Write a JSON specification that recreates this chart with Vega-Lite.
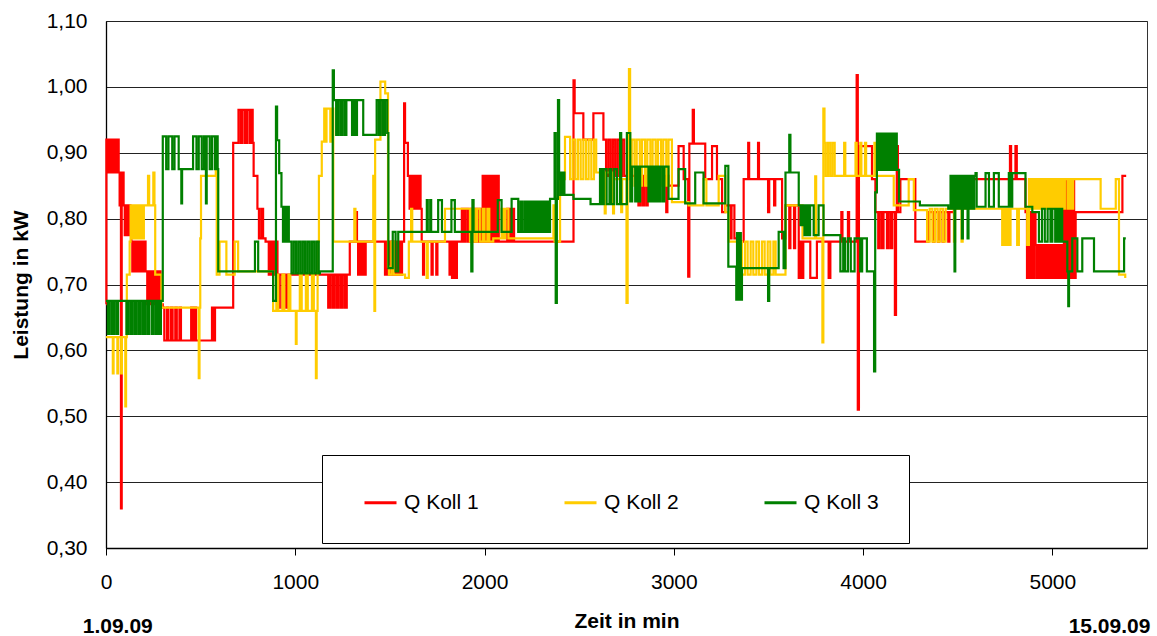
{
"$schema": "https://vega.github.io/schema/vega-lite/v6.json",
"width": 1041, "height": 527,
"autosize": {"type": "none"},
"padding": {"left": 106, "top": 21, "right": 10, "bottom": 88},
"background": "white",
"config": {
 "font": "Liberation Sans",
 "view": {"stroke": "#333", "strokeWidth": 1},
 "axis": {"labelFont": "Liberation Sans", "titleFont": "Liberation Sans", "labelColor": "#000", "titleColor": "#000", "labelFontSize": 21, "titleFontSize": 21, "titleFontWeight": "bold", "domainColor": "#000", "tickColor": "#000", "gridColor": "#222", "gridWidth": 1}
},
"datasets": {
"k1": [{"t":0,"v":0.67},{"t":2,"v":0.92},{"t":7,"v":0.87},{"t":12,"v":0.92},{"t":17,"v":0.87},{"t":22,"v":0.92},{"t":27,"v":0.87},{"t":32,"v":0.92},{"t":37,"v":0.87},{"t":42,"v":0.92},{"t":47,"v":0.87},{"t":52,"v":0.92},{"t":57,"v":0.87},{"t":62,"v":0.92},{"t":67,"v":0.87},{"t":72,"v":0.82},{"t":76,"v":0.87},{"t":79,"v":0.36},{"t":83,"v":0.82},{"t":88,"v":0.87},{"t":93,"v":0.82},{"t":99,"v":0.775},{"t":104,"v":0.82},{"t":109,"v":0.775},{"t":114,"v":0.82},{"t":119,"v":0.775},{"t":124,"v":0.82},{"t":129,"v":0.775},{"t":134,"v":0.765},{"t":139,"v":0.72},{"t":144,"v":0.765},{"t":149,"v":0.72},{"t":154,"v":0.765},{"t":159,"v":0.72},{"t":164,"v":0.765},{"t":169,"v":0.72},{"t":174,"v":0.765},{"t":179,"v":0.72},{"t":184,"v":0.765},{"t":189,"v":0.72},{"t":194,"v":0.765},{"t":199,"v":0.72},{"t":204,"v":0.765},{"t":209,"v":0.72},{"t":218,"v":0.67},{"t":223,"v":0.72},{"t":228,"v":0.67},{"t":233,"v":0.72},{"t":238,"v":0.67},{"t":243,"v":0.72},{"t":248,"v":0.67},{"t":253,"v":0.72},{"t":258,"v":0.67},{"t":263,"v":0.72},{"t":268,"v":0.67},{"t":273,"v":0.72},{"t":278,"v":0.67},{"t":283,"v":0.72},{"t":288,"v":0.67},{"t":300,"v":0.665},{"t":308,"v":0.615},{"t":322,"v":0.665},{"t":330,"v":0.615},{"t":344,"v":0.665},{"t":352,"v":0.615},{"t":366,"v":0.665},{"t":374,"v":0.615},{"t":388,"v":0.665},{"t":396,"v":0.615},{"t":450,"v":0.665},{"t":458,"v":0.615},{"t":468,"v":0.665},{"t":476,"v":0.615},{"t":560,"v":0.665},{"t":566,"v":0.615},{"t":576,"v":0.665},{"t":672,"v":0.915},{"t":700,"v":0.965},{"t":712,"v":0.915},{"t":722,"v":0.965},{"t":735,"v":0.915},{"t":745,"v":0.965},{"t":758,"v":0.915},{"t":766,"v":0.965},{"t":775,"v":0.915},{"t":780,"v":0.865},{"t":800,"v":0.815},{"t":808,"v":0.77},{"t":820,"v":0.815},{"t":830,"v":0.77},{"t":843,"v":0.765},{"t":860,"v":0.715},{"t":866,"v":0.765},{"t":876,"v":0.715},{"t":882,"v":0.765},{"t":892,"v":0.715},{"t":898,"v":0.765},{"t":906,"v":0.715},{"t":912,"v":0.665},{"t":918,"v":0.715},{"t":932,"v":0.665},{"t":938,"v":0.715},{"t":952,"v":0.665},{"t":958,"v":0.715},{"t":1174,"v":0.665},{"t":1184,"v":0.715},{"t":1196,"v":0.665},{"t":1206,"v":0.715},{"t":1218,"v":0.665},{"t":1228,"v":0.715},{"t":1240,"v":0.665},{"t":1250,"v":0.715},{"t":1262,"v":0.665},{"t":1272,"v":0.715},{"t":1288,"v":0.765},{"t":1320,"v":0.81},{"t":1326,"v":0.765},{"t":1332,"v":0.715},{"t":1340,"v":0.765},{"t":1350,"v":0.715},{"t":1358,"v":0.765},{"t":1366,"v":0.715},{"t":1372,"v":0.765},{"t":1474,"v":0.715},{"t":1484,"v":0.765},{"t":1494,"v":0.715},{"t":1504,"v":0.765},{"t":1514,"v":0.715},{"t":1524,"v":0.765},{"t":1534,"v":0.715},{"t":1544,"v":0.765},{"t":1554,"v":0.715},{"t":1564,"v":0.765},{"t":1575,"v":0.975},{"t":1580,"v":0.915},{"t":1595,"v":0.865},{"t":1604,"v":0.815},{"t":1614,"v":0.865},{"t":1624,"v":0.815},{"t":1634,"v":0.865},{"t":1644,"v":0.815},{"t":1654,"v":0.865},{"t":1662,"v":0.815},{"t":1668,"v":0.765},{"t":1675,"v":0.715},{"t":1680,"v":0.765},{"t":1720,"v":0.715},{"t":1726,"v":0.765},{"t":1745,"v":0.715},{"t":1751,"v":0.765},{"t":1815,"v":0.715},{"t":1821,"v":0.765},{"t":1828,"v":0.71},{"t":1836,"v":0.765},{"t":1846,"v":0.71},{"t":1854,"v":0.765},{"t":1880,"v":0.815},{"t":1890,"v":0.765},{"t":1900,"v":0.815},{"t":1912,"v":0.765},{"t":1925,"v":0.815},{"t":1935,"v":0.765},{"t":1950,"v":0.815},{"t":1960,"v":0.765},{"t":1972,"v":0.815},{"t":1982,"v":0.765},{"t":1990,"v":0.865},{"t":1995,"v":0.765},{"t":2000,"v":0.865},{"t":2005,"v":0.765},{"t":2010,"v":0.865},{"t":2015,"v":0.765},{"t":2020,"v":0.865},{"t":2025,"v":0.765},{"t":2030,"v":0.865},{"t":2035,"v":0.765},{"t":2040,"v":0.865},{"t":2045,"v":0.765},{"t":2050,"v":0.865},{"t":2055,"v":0.765},{"t":2060,"v":0.865},{"t":2065,"v":0.765},{"t":2070,"v":0.865},{"t":2075,"v":0.765},{"t":2120,"v":0.815},{"t":2126,"v":0.765},{"t":2135,"v":0.815},{"t":2141,"v":0.765},{"t":2150,"v":0.815},{"t":2156,"v":0.765},{"t":2470,"v":1.01},{"t":2476,"v":0.96},{"t":2522,"v":0.92},{"t":2575,"v":0.96},{"t":2628,"v":0.92},{"t":2642,"v":0.865},{"t":2654,"v":0.92},{"t":2666,"v":0.865},{"t":2678,"v":0.92},{"t":2690,"v":0.865},{"t":2702,"v":0.92},{"t":2714,"v":0.865},{"t":2726,"v":0.92},{"t":2738,"v":0.865},{"t":2813,"v":0.82},{"t":2822,"v":0.865},{"t":2834,"v":0.82},{"t":2842,"v":0.865},{"t":2854,"v":0.82},{"t":2862,"v":0.865},{"t":2960,"v":0.81},{"t":2966,"v":0.865},{"t":2972,"v":0.85},{"t":3025,"v":0.91},{"t":3052,"v":0.86},{"t":3076,"v":0.712},{"t":3082,"v":0.914},{"t":3100,"v":0.965},{"t":3106,"v":0.914},{"t":3166,"v":0.86},{"t":3202,"v":0.91},{"t":3228,"v":0.86},{"t":3255,"v":0.81},{"t":3272,"v":0.82},{"t":3300,"v":0.77},{"t":3305,"v":0.82},{"t":3320,"v":0.77},{"t":3343,"v":0.765},{"t":3369,"v":0.86},{"t":3393,"v":0.915},{"t":3398,"v":0.86},{"t":3445,"v":0.915},{"t":3450,"v":0.86},{"t":3498,"v":0.81},{"t":3504,"v":0.86},{"t":3530,"v":0.82},{"t":3536,"v":0.86},{"t":3572,"v":0.77},{"t":3590,"v":0.82},{"t":3610,"v":0.755},{"t":3616,"v":0.82},{"t":3635,"v":0.755},{"t":3641,"v":0.82},{"t":3660,"v":0.71},{"t":3668,"v":0.765},{"t":3676,"v":0.71},{"t":3684,"v":0.765},{"t":3721,"v":0.71},{"t":3756,"v":0.765},{"t":3818,"v":0.71},{"t":3827,"v":0.765},{"t":3885,"v":0.81},{"t":3891,"v":0.765},{"t":3920,"v":0.81},{"t":3926,"v":0.765},{"t":3966,"v":1.018},{"t":3972,"v":0.51},{"t":3978,"v":0.91},{"t":4047,"v":0.86},{"t":4065,"v":0.81},{"t":4080,"v":0.755},{"t":4088,"v":0.81},{"t":4100,"v":0.755},{"t":4108,"v":0.81},{"t":4126,"v":0.755},{"t":4134,"v":0.81},{"t":4146,"v":0.755},{"t":4154,"v":0.81},{"t":4168,"v":0.654},{"t":4174,"v":0.81},{"t":4178,"v":0.91},{"t":4184,"v":0.81},{"t":4197,"v":0.86},{"t":4276,"v":0.765},{"t":4345,"v":0.81},{"t":4370,"v":0.765},{"t":4376,"v":0.81},{"t":4395,"v":0.765},{"t":4401,"v":0.81},{"t":4420,"v":0.765},{"t":4426,"v":0.81},{"t":4450,"v":0.765},{"t":4456,"v":0.81},{"t":4480,"v":0.86},{"t":4776,"v":0.91},{"t":4782,"v":0.86},{"t":4805,"v":0.91},{"t":4812,"v":0.86},{"t":4858,"v":0.81},{"t":4866,"v":0.71},{"t":4872,"v":0.81},{"t":4882,"v":0.71},{"t":4888,"v":0.81},{"t":4898,"v":0.71},{"t":4904,"v":0.81},{"t":4911,"v":0.76},{"t":4916,"v":0.71},{"t":4921,"v":0.76},{"t":4926,"v":0.71},{"t":4931,"v":0.76},{"t":4936,"v":0.71},{"t":4941,"v":0.76},{"t":4946,"v":0.71},{"t":4951,"v":0.76},{"t":4956,"v":0.71},{"t":4961,"v":0.76},{"t":4966,"v":0.71},{"t":4971,"v":0.76},{"t":4976,"v":0.71},{"t":4981,"v":0.76},{"t":4986,"v":0.71},{"t":4991,"v":0.76},{"t":4996,"v":0.71},{"t":5001,"v":0.76},{"t":5006,"v":0.71},{"t":5011,"v":0.76},{"t":5016,"v":0.71},{"t":5021,"v":0.76},{"t":5026,"v":0.71},{"t":5031,"v":0.76},{"t":5036,"v":0.71},{"t":5041,"v":0.76},{"t":5046,"v":0.71},{"t":5051,"v":0.76},{"t":5056,"v":0.71},{"t":5061,"v":0.86},{"t":5067,"v":0.71},{"t":5073,"v":0.86},{"t":5079,"v":0.71},{"t":5085,"v":0.86},{"t":5091,"v":0.71},{"t":5097,"v":0.86},{"t":5103,"v":0.71},{"t":5109,"v":0.86},{"t":5115,"v":0.71},{"t":5123,"v":0.81},{"t":5370,"v":0.865},{"t":5390,"v":0.865}],
"k2": [{"t":0,"v":0.62},{"t":36,"v":0.565},{"t":40,"v":0.62},{"t":60,"v":0.565},{"t":64,"v":0.62},{"t":80,"v":0.565},{"t":84,"v":0.62},{"t":102,"v":0.515},{"t":106,"v":0.62},{"t":110,"v":0.715},{"t":125,"v":0.765},{"t":130,"v":0.82},{"t":135,"v":0.77},{"t":140,"v":0.82},{"t":145,"v":0.77},{"t":150,"v":0.82},{"t":155,"v":0.77},{"t":160,"v":0.82},{"t":165,"v":0.77},{"t":170,"v":0.82},{"t":175,"v":0.77},{"t":180,"v":0.82},{"t":185,"v":0.77},{"t":190,"v":0.82},{"t":195,"v":0.77},{"t":200,"v":0.82},{"t":222,"v":0.865},{"t":228,"v":0.82},{"t":250,"v":0.87},{"t":256,"v":0.82},{"t":260,"v":0.715},{"t":293,"v":0.665},{"t":490,"v":0.558},{"t":494,"v":0.665},{"t":498,"v":0.77},{"t":502,"v":0.865},{"t":580,"v":0.875},{"t":585,"v":0.715},{"t":600,"v":0.765},{"t":636,"v":0.715},{"t":680,"v":0.765},{"t":698,"v":0.72},{"t":883,"v":0.66},{"t":900,"v":0.715},{"t":910,"v":0.66},{"t":932,"v":0.715},{"t":942,"v":0.66},{"t":964,"v":0.715},{"t":974,"v":0.66},{"t":1003,"v":0.61},{"t":1007,"v":0.66},{"t":1024,"v":0.715},{"t":1034,"v":0.66},{"t":1056,"v":0.715},{"t":1066,"v":0.66},{"t":1088,"v":0.715},{"t":1098,"v":0.66},{"t":1109,"v":0.558},{"t":1113,"v":0.66},{"t":1118,"v":0.765},{"t":1125,"v":0.865},{"t":1140,"v":0.917},{"t":1153,"v":0.967},{"t":1160,"v":0.917},{"t":1165,"v":0.967},{"t":1185,"v":0.917},{"t":1190,"v":0.967},{"t":1201,"v":0.765},{"t":1312,"v":0.815},{"t":1318,"v":0.765},{"t":1412,"v":0.865},{"t":1418,"v":0.66},{"t":1422,"v":0.92},{"t":1450,"v":1.008},{"t":1475,"v":0.99},{"t":1490,"v":0.727},{"t":1495,"v":0.715},{"t":1508,"v":0.765},{"t":1520,"v":0.715},{"t":1580,"v":0.71},{"t":1600,"v":0.765},{"t":1612,"v":0.815},{"t":1618,"v":0.765},{"t":1694,"v":0.71},{"t":1700,"v":0.765},{"t":1791,"v":0.815},{"t":1923,"v":0.765},{"t":1935,"v":0.815},{"t":1948,"v":0.765},{"t":1960,"v":0.815},{"t":1975,"v":0.765},{"t":1990,"v":0.815},{"t":2000,"v":0.765},{"t":2015,"v":0.815},{"t":2025,"v":0.765},{"t":2046,"v":0.77},{"t":2090,"v":0.815},{"t":2100,"v":0.77},{"t":2110,"v":0.815},{"t":2126,"v":0.77},{"t":2364,"v":0.82},{"t":2370,"v":0.765},{"t":2399,"v":0.86},{"t":2425,"v":0.924},{"t":2452,"v":0.86},{"t":2466,"v":0.92},{"t":2480,"v":0.86},{"t":2494,"v":0.92},{"t":2508,"v":0.86},{"t":2522,"v":0.92},{"t":2536,"v":0.86},{"t":2550,"v":0.92},{"t":2564,"v":0.86},{"t":2578,"v":0.92},{"t":2590,"v":0.87},{"t":2635,"v":0.808},{"t":2640,"v":0.87},{"t":2679,"v":0.808},{"t":2684,"v":0.86},{"t":2722,"v":0.81},{"t":2727,"v":0.86},{"t":2750,"v":0.672},{"t":2756,"v":0.86},{"t":2763,"v":1.027},{"t":2769,"v":0.86},{"t":2778,"v":0.92},{"t":2792,"v":0.85},{"t":2804,"v":0.92},{"t":2820,"v":0.85},{"t":2832,"v":0.92},{"t":2848,"v":0.85},{"t":2860,"v":0.92},{"t":2876,"v":0.85},{"t":2888,"v":0.92},{"t":2904,"v":0.85},{"t":2916,"v":0.92},{"t":2932,"v":0.85},{"t":2944,"v":0.92},{"t":2960,"v":0.85},{"t":2972,"v":0.92},{"t":2990,"v":0.825},{"t":3078,"v":0.82},{"t":3157,"v":0.86},{"t":3172,"v":0.82},{"t":3237,"v":0.865},{"t":3272,"v":0.81},{"t":3290,"v":0.765},{"t":3360,"v":0.715},{"t":3376,"v":0.765},{"t":3390,"v":0.715},{"t":3406,"v":0.765},{"t":3420,"v":0.715},{"t":3436,"v":0.765},{"t":3450,"v":0.715},{"t":3466,"v":0.765},{"t":3480,"v":0.715},{"t":3496,"v":0.765},{"t":3510,"v":0.715},{"t":3526,"v":0.765},{"t":3538,"v":0.715},{"t":3590,"v":0.82},{"t":3680,"v":0.77},{"t":3747,"v":0.864},{"t":3752,"v":0.77},{"t":3785,"v":0.612},{"t":3790,"v":0.967},{"t":3796,"v":0.915},{"t":3802,"v":0.865},{"t":3814,"v":0.915},{"t":3826,"v":0.865},{"t":3838,"v":0.915},{"t":3850,"v":0.865},{"t":3900,"v":0.915},{"t":3906,"v":0.865},{"t":3960,"v":0.915},{"t":3966,"v":0.865},{"t":3985,"v":0.915},{"t":3991,"v":0.865},{"t":4010,"v":0.915},{"t":4016,"v":0.865},{"t":4060,"v":0.915},{"t":4070,"v":0.865},{"t":4162,"v":0.82},{"t":4241,"v":0.86},{"t":4268,"v":0.813},{"t":4338,"v":0.765},{"t":4352,"v":0.815},{"t":4366,"v":0.765},{"t":4380,"v":0.815},{"t":4394,"v":0.765},{"t":4408,"v":0.815},{"t":4422,"v":0.765},{"t":4436,"v":0.815},{"t":4480,"v":0.765},{"t":4486,"v":0.815},{"t":4520,"v":0.765},{"t":4526,"v":0.815},{"t":4735,"v":0.76},{"t":4745,"v":0.815},{"t":4752,"v":0.76},{"t":4762,"v":0.815},{"t":4770,"v":0.76},{"t":4779,"v":0.815},{"t":4814,"v":0.76},{"t":4823,"v":0.815},{"t":4867,"v":0.76},{"t":4876,"v":0.86},{"t":4881,"v":0.815},{"t":4886,"v":0.86},{"t":4891,"v":0.815},{"t":4896,"v":0.86},{"t":4901,"v":0.815},{"t":4906,"v":0.86},{"t":4911,"v":0.815},{"t":4916,"v":0.86},{"t":4921,"v":0.815},{"t":4926,"v":0.86},{"t":4931,"v":0.815},{"t":4936,"v":0.86},{"t":4941,"v":0.815},{"t":4946,"v":0.86},{"t":4951,"v":0.815},{"t":4956,"v":0.86},{"t":4961,"v":0.815},{"t":4966,"v":0.86},{"t":4971,"v":0.815},{"t":4976,"v":0.86},{"t":4981,"v":0.815},{"t":4986,"v":0.86},{"t":4991,"v":0.815},{"t":4996,"v":0.86},{"t":5001,"v":0.815},{"t":5006,"v":0.86},{"t":5011,"v":0.815},{"t":5016,"v":0.86},{"t":5021,"v":0.815},{"t":5026,"v":0.86},{"t":5031,"v":0.815},{"t":5036,"v":0.86},{"t":5041,"v":0.815},{"t":5046,"v":0.86},{"t":5051,"v":0.815},{"t":5056,"v":0.86},{"t":5061,"v":0.815},{"t":5066,"v":0.86},{"t":5080,"v":0.815},{"t":5090,"v":0.86},{"t":5100,"v":0.815},{"t":5110,"v":0.86},{"t":5255,"v":0.815},{"t":5335,"v":0.86},{"t":5352,"v":0.715},{"t":5385,"v":0.71}],
"k3": [{"t":0,"v":0.675},{"t":10,"v":0.625},{"t":20,"v":0.675},{"t":32,"v":0.625},{"t":42,"v":0.675},{"t":54,"v":0.625},{"t":64,"v":0.675},{"t":108,"v":0.625},{"t":118,"v":0.675},{"t":130,"v":0.625},{"t":140,"v":0.675},{"t":152,"v":0.625},{"t":162,"v":0.675},{"t":174,"v":0.625},{"t":184,"v":0.675},{"t":196,"v":0.625},{"t":206,"v":0.675},{"t":218,"v":0.625},{"t":228,"v":0.675},{"t":242,"v":0.625},{"t":252,"v":0.675},{"t":264,"v":0.625},{"t":274,"v":0.675},{"t":284,"v":0.625},{"t":290,"v":0.675},{"t":300,"v":0.925},{"t":318,"v":0.875},{"t":330,"v":0.925},{"t":350,"v":0.875},{"t":362,"v":0.925},{"t":384,"v":0.875},{"t":398,"v":0.823},{"t":402,"v":0.875},{"t":460,"v":0.925},{"t":478,"v":0.875},{"t":490,"v":0.925},{"t":506,"v":0.875},{"t":518,"v":0.925},{"t":528,"v":0.823},{"t":532,"v":0.925},{"t":548,"v":0.875},{"t":560,"v":0.925},{"t":575,"v":0.875},{"t":584,"v":0.925},{"t":590,"v":0.875},{"t":593,"v":0.72},{"t":787,"v":0.765},{"t":804,"v":0.72},{"t":883,"v":0.675},{"t":898,"v":0.97},{"t":904,"v":0.919},{"t":915,"v":0.869},{"t":927,"v":0.818},{"t":935,"v":0.765},{"t":942,"v":0.818},{"t":950,"v":0.765},{"t":958,"v":0.818},{"t":966,"v":0.765},{"t":980,"v":0.717},{"t":992,"v":0.765},{"t":1004,"v":0.717},{"t":1016,"v":0.765},{"t":1028,"v":0.717},{"t":1040,"v":0.765},{"t":1052,"v":0.717},{"t":1064,"v":0.765},{"t":1076,"v":0.717},{"t":1088,"v":0.765},{"t":1100,"v":0.717},{"t":1112,"v":0.765},{"t":1124,"v":0.717},{"t":1130,"v":0.72},{"t":1198,"v":1.025},{"t":1204,"v":0.98},{"t":1216,"v":0.927},{"t":1226,"v":0.98},{"t":1238,"v":0.927},{"t":1248,"v":0.98},{"t":1260,"v":0.927},{"t":1270,"v":0.98},{"t":1300,"v":0.927},{"t":1308,"v":0.98},{"t":1318,"v":0.927},{"t":1326,"v":0.98},{"t":1359,"v":0.927},{"t":1430,"v":0.98},{"t":1442,"v":0.927},{"t":1452,"v":0.98},{"t":1464,"v":0.927},{"t":1474,"v":0.98},{"t":1486,"v":0.93},{"t":1492,"v":0.725},{"t":1515,"v":0.78},{"t":1530,"v":0.72},{"t":1544,"v":0.78},{"t":1695,"v":0.828},{"t":1700,"v":0.78},{"t":1713,"v":0.828},{"t":1718,"v":0.78},{"t":1755,"v":0.828},{"t":1775,"v":0.78},{"t":1825,"v":0.828},{"t":1843,"v":0.78},{"t":1930,"v":0.72},{"t":1936,"v":0.828},{"t":1942,"v":0.78},{"t":2070,"v":0.828},{"t":2090,"v":0.78},{"t":2143,"v":0.83},{"t":2178,"v":0.78},{"t":2190,"v":0.826},{"t":2200,"v":0.78},{"t":2212,"v":0.826},{"t":2222,"v":0.78},{"t":2232,"v":0.826},{"t":2237,"v":0.78},{"t":2242,"v":0.826},{"t":2247,"v":0.78},{"t":2252,"v":0.826},{"t":2257,"v":0.78},{"t":2262,"v":0.826},{"t":2267,"v":0.78},{"t":2272,"v":0.826},{"t":2277,"v":0.78},{"t":2282,"v":0.826},{"t":2287,"v":0.78},{"t":2292,"v":0.826},{"t":2297,"v":0.78},{"t":2302,"v":0.826},{"t":2307,"v":0.78},{"t":2312,"v":0.826},{"t":2317,"v":0.78},{"t":2322,"v":0.826},{"t":2327,"v":0.78},{"t":2332,"v":0.826},{"t":2337,"v":0.78},{"t":2346,"v":0.83},{"t":2370,"v":0.93},{"t":2376,"v":0.672},{"t":2382,"v":0.83},{"t":2388,"v":0.98},{"t":2394,"v":0.86},{"t":2400,"v":0.836},{"t":2405,"v":0.87},{"t":2410,"v":0.836},{"t":2416,"v":0.87},{"t":2422,"v":0.836},{"t":2470,"v":0.83},{"t":2560,"v":0.822},{"t":2610,"v":0.875},{"t":2620,"v":0.822},{"t":2630,"v":0.875},{"t":2645,"v":0.822},{"t":2660,"v":0.875},{"t":2670,"v":0.822},{"t":2685,"v":0.875},{"t":2700,"v":0.822},{"t":2716,"v":0.93},{"t":2722,"v":0.822},{"t":2752,"v":0.93},{"t":2770,"v":0.826},{"t":2780,"v":0.879},{"t":2796,"v":0.826},{"t":2804,"v":0.879},{"t":2814,"v":0.826},{"t":2822,"v":0.879},{"t":2866,"v":0.826},{"t":2874,"v":0.879},{"t":2884,"v":0.826},{"t":2892,"v":0.879},{"t":2902,"v":0.826},{"t":2910,"v":0.879},{"t":2920,"v":0.826},{"t":2928,"v":0.879},{"t":2940,"v":0.826},{"t":2950,"v":0.879},{"t":2972,"v":0.83},{"t":3025,"v":0.875},{"t":3060,"v":0.823},{"t":3113,"v":0.87},{"t":3157,"v":0.823},{"t":3272,"v":0.88},{"t":3288,"v":0.727},{"t":3330,"v":0.677},{"t":3334,"v":0.778},{"t":3338,"v":0.677},{"t":3342,"v":0.778},{"t":3346,"v":0.677},{"t":3350,"v":0.778},{"t":3354,"v":0.677},{"t":3360,"v":0.725},{"t":3498,"v":0.675},{"t":3504,"v":0.725},{"t":3554,"v":0.78},{"t":3580,"v":0.725},{"t":3590,"v":0.87},{"t":3610,"v":0.927},{"t":3616,"v":0.87},{"t":3660,"v":0.82},{"t":3670,"v":0.79},{"t":3680,"v":0.82},{"t":3690,"v":0.775},{"t":3700,"v":0.82},{"t":3710,"v":0.775},{"t":3720,"v":0.82},{"t":3739,"v":0.775},{"t":3765,"v":0.82},{"t":3791,"v":0.775},{"t":3880,"v":0.72},{"t":3895,"v":0.77},{"t":3905,"v":0.72},{"t":3920,"v":0.77},{"t":3935,"v":0.72},{"t":3955,"v":0.77},{"t":3985,"v":0.72},{"t":3995,"v":0.77},{"t":4020,"v":0.72},{"t":4058,"v":0.568},{"t":4064,"v":0.84},{"t":4073,"v":0.929},{"t":4078,"v":0.874},{"t":4083,"v":0.929},{"t":4088,"v":0.874},{"t":4093,"v":0.929},{"t":4098,"v":0.874},{"t":4103,"v":0.929},{"t":4108,"v":0.874},{"t":4113,"v":0.929},{"t":4118,"v":0.874},{"t":4123,"v":0.929},{"t":4128,"v":0.874},{"t":4133,"v":0.929},{"t":4138,"v":0.874},{"t":4143,"v":0.929},{"t":4148,"v":0.874},{"t":4153,"v":0.929},{"t":4158,"v":0.874},{"t":4163,"v":0.929},{"t":4168,"v":0.874},{"t":4173,"v":0.929},{"t":4178,"v":0.874},{"t":4190,"v":0.826},{"t":4300,"v":0.82},{"t":4450,"v":0.815},{"t":4462,"v":0.865},{"t":4467,"v":0.815},{"t":4472,"v":0.865},{"t":4477,"v":0.815},{"t":4483,"v":0.72},{"t":4487,"v":0.865},{"t":4492,"v":0.815},{"t":4497,"v":0.865},{"t":4502,"v":0.815},{"t":4507,"v":0.865},{"t":4512,"v":0.815},{"t":4517,"v":0.865},{"t":4522,"v":0.77},{"t":4527,"v":0.865},{"t":4532,"v":0.815},{"t":4537,"v":0.865},{"t":4542,"v":0.815},{"t":4547,"v":0.865},{"t":4552,"v":0.77},{"t":4557,"v":0.865},{"t":4562,"v":0.815},{"t":4567,"v":0.865},{"t":4572,"v":0.815},{"t":4577,"v":0.865},{"t":4582,"v":0.815},{"t":4587,"v":0.865},{"t":4594,"v":0.869},{"t":4600,"v":0.818},{"t":4647,"v":0.869},{"t":4665,"v":0.818},{"t":4691,"v":0.869},{"t":4717,"v":0.818},{"t":4770,"v":0.869},{"t":4779,"v":0.818},{"t":4788,"v":0.869},{"t":4858,"v":0.818},{"t":4894,"v":0.81},{"t":4929,"v":0.765},{"t":4945,"v":0.815},{"t":4960,"v":0.765},{"t":4975,"v":0.815},{"t":4990,"v":0.765},{"t":5000,"v":0.815},{"t":5015,"v":0.765},{"t":5025,"v":0.815},{"t":5035,"v":0.765},{"t":5045,"v":0.815},{"t":5052,"v":0.765},{"t":5079,"v":0.72},{"t":5084,"v":0.667},{"t":5088,"v":0.72},{"t":5105,"v":0.77},{"t":5132,"v":0.72},{"t":5158,"v":0.77},{"t":5220,"v":0.72},{"t":5379,"v":0.77},{"t":5388,"v":0.77}],
"dates": [{"t": 62, "label": "1.09.09"}, {"t": 5302, "label": "15.09.09"}]
},
"layer": [
 {"data": {"name": "k1"}, "mark": {"type": "line", "interpolate": "step-after", "strokeWidth": 2.2},
  "encoding": {
   "x": {"field": "t", "type": "quantitative", "scale": {"domain": [0, 5500], "nice": false, "zero": false},
     "axis": {"title": "Zeit in min", "values": [0,1000,2000,3000,4000,5000], "format": "d", "grid": false, "tickSize": 7, "labelPadding": 16, "titlePadding": 18, "domainWidth": 1.3, "labelFlush": false}},
   "y": {"field": "v", "type": "quantitative", "scale": {"domain": [0.3, 1.1], "nice": false, "zero": false},
     "axis": {"title": "Leistung in kW", "values": [0.3,0.4,0.5,0.6,0.7,0.8,0.9,1.0,1.1], "labelExpr": "replace(format(datum.value, '.2f'), '.', ',')", "ticks": false, "labelPadding": 19, "grid": true, "titlePadding": 15, "domainWidth": 1.3}},
   "color": {"datum": "Q Koll 1", "type": "nominal",
    "scale": {"domain": ["Q Koll 1", "Q Koll 2", "Q Koll 3"], "range": ["#FF0000", "#FFCC00", "#008000"]},
    "legend": {"orient": "none", "legendX": 216, "legendY": 434, "direction": "horizontal", "title": " ", "titleOrient": "left", "titleFontSize": 4, "titlePadding": 11, "symbolType": "stroke", "symbolSize": 1024, "symbolStrokeWidth": 3, "labelFontSize": 21, "labelFont": "Liberation Sans", "labelColor": "#000", "labelOffset": 6, "columnPadding": 79, "padding": 30, "strokeColor": "#000", "fillColor": "white"}}}},
 {"data": {"name": "k2"}, "mark": {"type": "line", "interpolate": "step-after", "strokeWidth": 2.2},
  "encoding": {"x": {"field": "t", "type": "quantitative"}, "y": {"field": "v", "type": "quantitative"}, "color": {"datum": "Q Koll 2", "type": "nominal"}}},
 {"data": {"name": "k3"}, "mark": {"type": "line", "interpolate": "step-after", "strokeWidth": 2.2},
  "encoding": {"x": {"field": "t", "type": "quantitative"}, "y": {"field": "v", "type": "quantitative"}, "color": {"datum": "Q Koll 3", "type": "nominal"}}},
 {"data": {"name": "dates"},
  "mark": {"type": "text", "fontSize": 21, "fontWeight": "bold", "font": "Liberation Sans", "baseline": "alphabetic", "fill": "#000", "clip": false},
  "encoding": {"x": {"field": "t", "type": "quantitative"}, "y": {"datum": 0.171, "type": "quantitative"}, "text": {"field": "label", "type": "nominal"}}}
]
}
